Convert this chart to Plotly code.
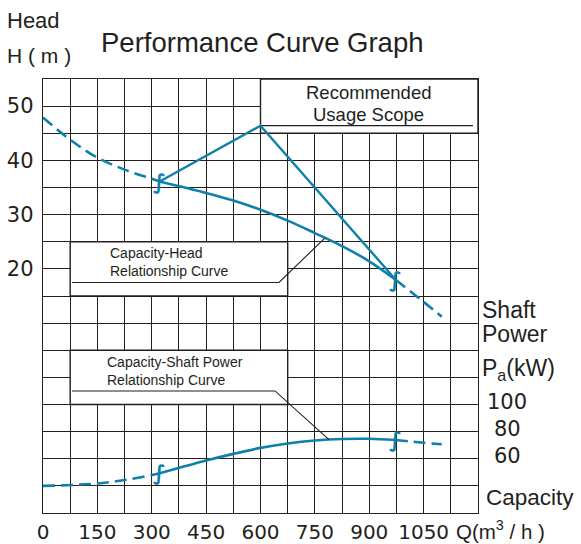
import numpy as np
import plotly.graph_objects as go

# ---- data -------------------------------------------------------------
# Capacity Q (m³/h) against head H (m)
head_q = [0, 75, 150, 225, 300, 322, 450, 525, 600, 675, 750, 825, 900, 973, 1050, 1100]
head_h = [47.9, 43.8, 40.5, 38.3, 36.6, 36.1, 34.0, 32.6, 30.9, 28.9, 26.6, 24.2, 21.4, 18.0, 13.9, 11.2]

# Capacity Q (m³/h) against shaft power Pa (kW)
power_q = [0, 75, 150, 225, 300, 322, 450, 525, 600, 675, 750, 825, 900, 973, 1050, 1100]
power_kw = [40.0, 40.6, 41.8, 44.3, 48.0, 49.3, 58.7, 63.6, 68.0, 71.3, 73.5, 74.6, 74.7, 73.8, 71.8, 70.7]

# Recommended operating range: lower / upper capacity and the apex of the outline
range_q = [322, 973]
apex_q = 600
apex_h = 46.4

# Axis ticks
q_ticks = [0, 150, 300, 450, 600, 750, 900, 1050]
head_ticks = [20, 30, 40, 50]
power_ticks = [100, 80, 60]

# ---- style ------------------------------------------------------------
BLUE = "#0e80a9"
INK = "#231f20"
GRID_W = 1.4
WORD_FONT = "Liberation Sans, Arial, sans-serif"
NUM_FONT = "DejaVu Sans, sans-serif"
DASH = "12px,6px"

Q_MAX, Q_STEP = 1200, 75
H_MIN, H_MAX, H_STEP = -25, 55, 5
P_MIN, P_MAX = 20, 340

L, R, T, B = 43, 103, 79, 31
W, H = 581, 544
PW, PH = W - L - R, H - T - B


def px(x):
    return (x - L) / PW


def py(y):
    return (T + PH - y) / PH


def split(qs, vs, lo, hi):
    qs, vs = np.asarray(qs, float), np.asarray(vs, float)
    left = qs <= lo
    mid = (qs >= lo) & (qs <= hi)
    right = qs >= hi
    return (qs[left], vs[left]), (qs[mid], vs[mid]), (qs[right], vs[right])


fig = go.Figure()

# Q-H curve: dashed outside the recommended range, solid inside
hl, hm, hr = split(head_q, head_h, *range_q)
for (xs, ys), dash in ((hl, DASH), (hm, "solid"), (hr, DASH)):
    fig.add_trace(go.Scatter(x=xs, y=ys, mode="lines",
                             line=dict(color=BLUE, width=2.6, dash=dash, shape="spline", smoothing=1.0),
                             hoverinfo="skip", showlegend=False))

# Q-Pa curve on the secondary (power) axis
pl, pm, pr = split(power_q, power_kw, *range_q)
for (xs, ys), dash in ((pl, DASH), (pm, "solid"), (pr, DASH)):
    fig.add_trace(go.Scatter(x=xs, y=ys, mode="lines", yaxis="y2",
                             line=dict(color=BLUE, width=2.6, dash=dash, shape="spline", smoothing=1.0),
                             hoverinfo="skip", showlegend=False))

# Outline of the recommended usage range
h_lo = float(np.interp(range_q[0], head_q, head_h))
h_hi = float(np.interp(range_q[1], head_q, head_h))
fig.add_trace(go.Scatter(x=[range_q[0], apex_q, range_q[1]], y=[h_lo, apex_h, h_hi],
                         mode="lines", line=dict(color=BLUE, width=2.4),
                         hoverinfo="skip", showlegend=False))

# Break marks where the curves change from dashed to solid
for q in range_q:
    fig.add_annotation(x=q, y=float(np.interp(q, head_q, head_h)), text="<b>∫</b>", showarrow=False,
                       font=dict(family=NUM_FONT, size=21, color=BLUE), xanchor="center", yanchor="middle")
    fig.add_annotation(x=q, y=float(np.interp(q, power_q, power_kw)), yref="y2", text="<b>∫</b>",
                       showarrow=False, font=dict(family=NUM_FONT, size=21, color=BLUE),
                       xanchor="center", yanchor="middle")

# Label boxes (white panels that interrupt the grid)
boxes = [(600, Q_MAX, 45, 55), (75, 675, 15, 25), (75, 675, -5, 5)]
for x0, x1, y0, y1 in boxes:
    fig.add_shape(type="rect", xref="x", yref="y", x0=x0, x1=x1, y0=y0, y1=y1,
                  fillcolor="white", line=dict(color=INK, width=GRID_W), layer="between")

# Underline of the "Recommended Usage Scope" caption
fig.add_shape(type="line", xref="x", yref="y", x0=apex_q, x1=1186, y0=apex_h, y1=apex_h,
              line=dict(color=INK, width=1.2), layer="between")

# Leader lines from the box captions to the curves
lead_q_head = 778
fig.add_trace(go.Scatter(x=[80, 651, lead_q_head],
                         y=[17.5, 17.5, float(np.interp(lead_q_head, head_q, head_h))],
                         mode="lines", line=dict(color=INK, width=1.1),
                         hoverinfo="skip", showlegend=False))
lead_q_pow = 789
fig.add_trace(go.Scatter(x=[80, 640, lead_q_pow],
                         y=[110, 110, float(np.interp(lead_q_pow, power_q, power_kw))],
                         yaxis="y2", mode="lines", line=dict(color=INK, width=1.1),
                         hoverinfo="skip", showlegend=False))

# Box captions
fig.add_annotation(x=px(368), y=py(92), xref="paper", yref="paper", text="Recommended",
                   showarrow=False, font=dict(family=WORD_FONT, size=18.5, color=INK),
                   xanchor="center", yanchor="middle")
fig.add_annotation(x=px(368), y=py(114.5), xref="paper", yref="paper", text="Usage Scope",
                   showarrow=False, font=dict(family=WORD_FONT, size=18.5, color=INK),
                   xanchor="center", yanchor="middle")
fig.add_annotation(x=px(108), y=py(261.5), xref="paper", yref="paper",
                   text="Capacity-Head<br>Relationship Curve", align="left",
                   showarrow=False, font=dict(family=WORD_FONT, size=14, color=INK),
                   xanchor="left", yanchor="middle")
fig.add_annotation(x=px(105), y=py(371), xref="paper", yref="paper",
                   text="Capacity-Shaft Power<br>Relationship Curve", align="left",
                   showarrow=False, font=dict(family=WORD_FONT, size=14, color=INK),
                   xanchor="left", yanchor="middle")


# Title and axis captions
def caption(text, x, y, size, anchor="left", family=WORD_FONT):
    fig.add_annotation(x=px(x), y=py(y), xref="paper", yref="paper", text=text,
                       showarrow=False, font=dict(family=family, size=size, color=INK),
                       xanchor=anchor, yanchor="middle")


caption("Performance Curve Graph", 262, 43, 27.5, "center")
caption("Head", 5, 20, 22)
caption("H ( m )", 5, 55, 21)
caption("Shaft", 480, 310, 23)
caption("Power", 480, 334, 23)
caption("P<sub>a</sub>(kW)", 480, 369, 23)
caption("Capacity", 484, 497, 22.5)
caption("Q(m<sup>3</sup> / h )", 454, 530, 20.5)

# Power scale labels (right side)
for p in power_ticks:
    fig.add_annotation(x=px(507), y=p, xref="paper", yref="y2", text=str(p), yshift=3,
                       showarrow=False, font=dict(family=NUM_FONT, size=21, color=INK),
                       xanchor="center", yanchor="middle")

# ---- axes -------------------------------------------------------------
q_minor = [v for v in range(0, Q_MAX + 1, Q_STEP) if v not in q_ticks]
h_minor = [v for v in range(H_MIN, H_MAX + 1, H_STEP) if v not in head_ticks]
grid_style = dict(showgrid=True, gridcolor=INK, gridwidth=GRID_W)

fig.update_layout(
    width=W, height=H,
    margin=dict(l=L, r=R, t=T, b=B, pad=0, autoexpand=False),
    paper_bgcolor="white", plot_bgcolor="white",
    showlegend=False,
    xaxis=dict(range=[0, Q_MAX], tickmode="array", tickvals=q_ticks,
               ticktext=[str(v) for v in q_ticks], **grid_style,
               minor=dict(tickmode="array", tickvals=q_minor, ticks="", **grid_style),
               zeroline=False, showline=True, mirror=True, linecolor=INK, linewidth=GRID_W,
               ticks="", ticklabelstandoff=1, automargin=False,
               tickfont=dict(family=NUM_FONT, size=20, color=INK), fixedrange=True),
    yaxis=dict(range=[H_MIN, H_MAX], tickmode="array", tickvals=head_ticks,
               ticktext=[str(v) for v in head_ticks], **grid_style,
               minor=dict(tickmode="array", tickvals=h_minor, ticks="", **grid_style),
               zeroline=True, zerolinecolor=INK, zerolinewidth=GRID_W,
               showline=True, mirror=True, linecolor=INK, linewidth=GRID_W,
               ticks="", ticklabelstandoff=4, automargin=False,
               tickfont=dict(family=NUM_FONT, size=21, color=INK), fixedrange=True),
    yaxis2=dict(range=[P_MIN, P_MAX], overlaying="y", side="right",
                showgrid=False, zeroline=False, showticklabels=False, ticks="",
                showline=False, automargin=False, fixedrange=True),
)

fig.write_html("out.html")
